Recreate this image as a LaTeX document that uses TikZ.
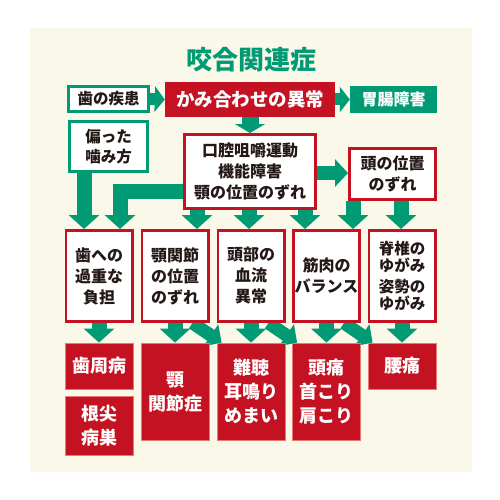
\documentclass[tikz,border=0pt]{standalone}
\usepackage{fontspec}
\newfontfamily\jp{Noto Sans CJK JP}
\usetikzlibrary{arrows.meta,calc}
\definecolor{gr}{RGB}{0,155,116}
\definecolor{rd}{RGB}{196,18,34}
\definecolor{cream}{RGB}{250,248,232}
\definecolor{ink}{RGB}{35,24,21}
\definecolor{pinkedge}{RGB}{232,120,120}
\pgfdeclarelayer{back}
\pgfdeclarelayer{bg}
\pgfsetlayers{back,bg,main}
\begin{document}
\begin{tikzpicture}[x=1pt,y=-1pt,
  wbox/.style={draw=rd,line width=2.6pt,fill=white,text=ink,inner sep=0pt,align=center,
    font=\jp\bfseries\fontsize{16}{21}\selectfont},
  gbox/.style={draw=gr,line width=2.6pt,fill=white,text=ink,inner sep=0pt,align=center,
    font=\jp\bfseries\fontsize{15.5}{19.5}\selectfont},
  rbox/.style={fill=rd,draw=pinkedge,line width=0.8pt,text=white,inner sep=0pt,align=center,
    font=\jp\bfseries\fontsize{18}{24}\selectfont},
  fat/.style={draw=gr,line width=15pt,line join=miter,-{Triangle[width=30pt,length=14pt]}},
  small/.style={draw=gr,line width=12pt,-{Triangle[width=25pt,length=10pt]}},
  mid/.style={draw=gr,line width=17pt,-{Triangle[width=30pt,length=9pt]}},
  side/.style={draw=gr,line width=14pt,-{Triangle[width=27pt,length=13pt]}},
  diag/.style={draw=gr,line width=13pt,-{Triangle[width=26pt,length=13pt]}}
]
\useasboundingbox (0,0) rectangle (500,500);
\begin{pgfonlayer}{back}
  \fill[white] (0,0) rectangle (500,500);
  \fill[cream] (30,28) rectangle (472,472);
\end{pgfonlayer}

% title
\node[text=gr,font=\jp\bfseries\fontsize{26}{30}\selectfont] (title) at (251,60) {咬合関連症};

% row 1
\node[gbox,minimum width=80.4pt,minimum height=25.4pt] (sk) at (108.5,99) {歯の疾患};
\node[fill=rd,text=white,inner sep=0pt,minimum width=170pt,minimum height=35pt,
  font=\jp\bfseries\fontsize{18.5}{22}\selectfont] (ka) at (250,99.5) {かみ合わせの異常};
\node[fill=gr,text=white,inner sep=0pt,minimum width=87pt,minimum height=27pt,
  font=\jp\bfseries\fontsize{16}{20}\selectfont] (ic) at (393.5,99.5) {胃腸障害};

% row 2
\node[gbox,minimum width=78.4pt,minimum height=50.4pt] (kt) at (108.5,146.5) {偏った\\噛み方};
\node[wbox,minimum width=131.4pt,minimum height=74.4pt] (kk) at (250,171.5) {口腔咀嚼運動\\機能障害\\顎の位置のずれ};
\node[wbox,minimum width=86.4pt,minimum height=51.4pt] (hd) at (392.5,174) {頭の位置\\のずれ};

% row 3
\node[wbox,minimum width=66.4pt,minimum height=91.4pt] (b1) at (99,276) {歯への\\過重な\\負担};
\node[wbox,minimum width=66.4pt,minimum height=91.4pt] (b2) at (175,276) {顎関節\\の位置\\のずれ};
\node[wbox,minimum width=66.4pt,minimum height=91.4pt] (b3) at (251,276) {頭部の\\血流\\異常};
\node[wbox,minimum width=66.4pt,minimum height=91.4pt] (b4) at (326.5,276) {筋肉の\\バランス};
\node[wbox,minimum width=66.4pt,minimum height=91.4pt,
  font=\jp\bfseries\fontsize{15.5}{17}\selectfont] (b5) at (402,276) {脊椎の\\ゆがみ\\[4pt]姿勢の\\ゆがみ};

% row 4
\node[rbox,minimum width=68pt,minimum height=46pt] (r1) at (99,366) {歯周病};
\node[rbox,minimum width=68pt,minimum height=59pt] (r1b) at (99,425.5) {根尖\\病巣};
\node[rbox,minimum width=68pt,minimum height=97pt] (r2) at (175,391.5) {顎\\関節症};
\node[rbox,minimum width=68pt,minimum height=97pt] (r3) at (251,391.5) {難聴\\耳鳴り\\めまい};
\node[rbox,minimum width=68pt,minimum height=97pt] (r4) at (326.5,391.5) {頭痛\\首こり\\肩こり};
\node[rbox,minimum width=68pt,minimum height=46pt] (r5) at (402,366) {腰痛};

% helper coordinates
\coordinate (x84) at (84,0);
\coordinate (x120) at (120,0);
\coordinate (x197) at (197,0);
\coordinate (x249) at (249,0);
\coordinate (x305) at (305,0);
\coordinate (x353) at (353,0);
\coordinate (x401) at (401,0);
\coordinate (y173) at (0,173);
\coordinate (y191) at (0,191);

\begin{pgfonlayer}{bg}
  \draw[small] (sk.east) -- (ka.west);
  \draw[small] (ka.east) -- (ic.west);
  \draw[mid] (ka.south) -- (kk.north);
  \draw[side] (kk.east |- y173) -- (hd.west |- y173);
  \draw[fat] (kt.south -| x84) -- (b1.north -| x84);
  \draw[fat] (kk.west |- y191) -| (b1.north -| x120);
  \draw[fat] (kk.south -| x197) -- (b2.north -| x197);
  \draw[fat] (kk.south -| x249) -- (b3.north -| x249);
  \draw[fat] (kk.south -| x305) -- (b4.north -| x305);
  \draw[fat] (hd.south -| x353) -- (b4.north -| x353);
  \draw[fat] (hd.south -| x401) -- (b5.north -| x401);
  \draw[fat] (b1.south) -- (r1.north);
  \draw[fat] (b2.south) -- (r2.north);
  \draw[fat] (b3.south) -- (r3.north);
  \draw[fat] (b4.south) -- (r4.north);
  \draw[fat] (b5.south) -- (r5.north);
  \draw[diag] ($(b2.south east)+(-17,0)$) -- ($(r3.north west)+(5,0)$);
  \draw[diag] ($(b3.south east)+(-17,0)$) -- ($(r4.north west)+(5,0)$);
  \draw[diag] ($(b4.south east)+(-17,0)$) -- ($(r5.north west)+(5,0)$);
\end{pgfonlayer}
\end{tikzpicture}
\end{document}
